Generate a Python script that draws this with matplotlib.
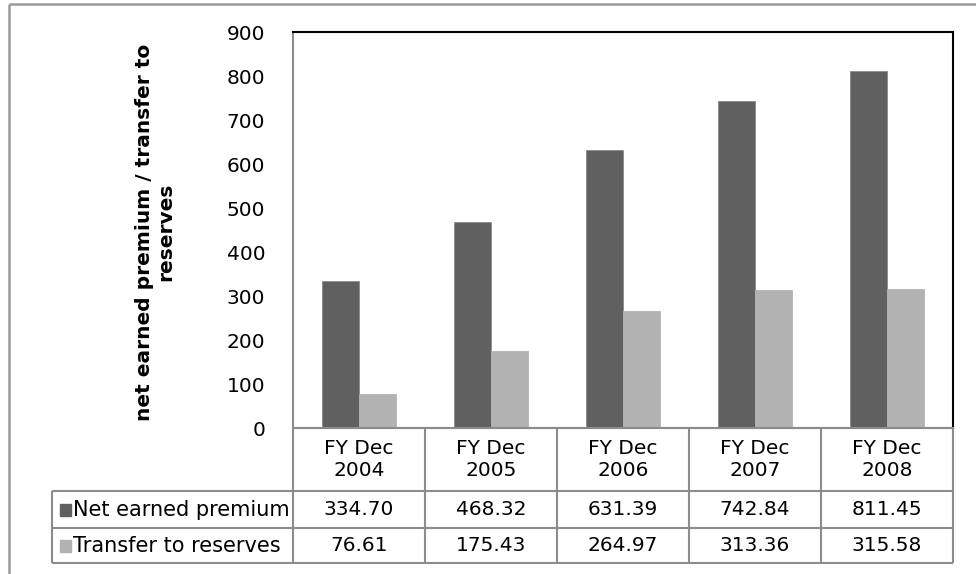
import numpy as np
import matplotlib
matplotlib.use("Agg")
import matplotlib.pyplot as plt
from matplotlib.lines import Line2D
from matplotlib.patches import Rectangle
from matplotlib.transforms import blended_transform_factory

years = ["FY Dec\n2004", "FY Dec\n2005", "FY Dec\n2006", "FY Dec\n2007", "FY Dec\n2008"]
series_names = ["Net earned premium", "Transfer to reserves"]
net_premium = [334.70, 468.32, 631.39, 742.84, 811.45]
transfer_reserves = [76.61, 175.43, 264.97, 313.36, 315.58]
yticks = [0, 100, 200, 300, 400, 500, 600, 700, 800, 900]

dark = "#606060"
light = "#b2b2b2"
grid_gray = "#8c8c8c"
W, H = 976, 574

plt.rcParams["font.family"] = "DejaVu Sans"
fig = plt.figure(figsize=(W / 100, H / 100), dpi=100)


def fx(x):
    return x / W


def fy(y):
    return 1 - y / H


def hline(x0, x1, y, color=grid_gray, lw=1.5):
    fig.add_artist(Line2D([fx(x0), fx(x1)], [fy(y), fy(y)], color=color, lw=lw,
                          transform=fig.transFigure, solid_capstyle="butt"))


def vline(x, y0, y1, color=grid_gray, lw=1.5):
    fig.add_artist(Line2D([fx(x), fx(x)], [fy(y0), fy(y1)], color=color, lw=lw,
                          transform=fig.transFigure, solid_capstyle="butt"))


# plot area in pixels
left, right, top, bottom = 293, 953, 32, 428
ax = fig.add_axes([fx(left), fy(bottom), fx(right) - fx(left), (bottom - top) / H])

x = np.arange(len(years))
bw = 0.28
ax.bar(x - bw / 2, net_premium, bw, color=dark, edgecolor="#8a8a8a", linewidth=0.6)
ax.bar(x + bw / 2, transfer_reserves, bw, color=light, edgecolor=light, linewidth=0.6)

ax.set_xlim(-0.5, len(years) - 0.5)
ax.set_ylim(0, 900)
ax.set_yticks(yticks)
ax.set_yticklabels([str(v) for v in yticks], fontsize=14.5)
ax.tick_params(axis="y", length=0, pad=20)
ax.set_xticks([])
for side in ("top", "right"):
    ax.spines[side].set_color("black")
    ax.spines[side].set_linewidth(1.5)
for side in ("left", "bottom"):
    ax.spines[side].set_color(grid_gray)
    ax.spines[side].set_linewidth(1.5)

fig.text(fx(155), fy(232), "net earned premium / transfer to\nreserves",
         rotation=90, ha="center", va="center", multialignment="center",
         fontsize=14.5, fontweight="bold")

# data table under the axis
row_tops = [428, 491, 528, 563]
label_left = 52
for i, y in enumerate(row_tops):
    x0 = left if i == 0 else label_left
    hline(x0, right, y)
vline(label_left, row_tops[1], row_tops[3])
col_tr = blended_transform_factory(ax.transData, fig.transFigure)
for b in np.arange(len(years) + 1) - 0.5:
    px_x = ax.transData.transform((b, 0))[0]
    vline(px_x, row_tops[0], row_tops[3])

row_centers = [(row_tops[i] + row_tops[i + 1]) / 2 for i in range(3)]
for i, lab in enumerate(years):
    fig.text(i, fy(row_centers[0]), lab, transform=col_tr, ha="center", va="center",
             fontsize=14.5, linespacing=1.2)
    fig.text(i, fy(row_centers[1]), f"{net_premium[i]:.2f}", transform=col_tr,
             ha="center", va="center", fontsize=14.5)
    fig.text(i, fy(row_centers[2]), f"{transfer_reserves[i]:.2f}", transform=col_tr,
             ha="center", va="center", fontsize=14.5)

for name, color, yc in zip(series_names, [dark, light], row_centers[1:]):
    fig.add_artist(Rectangle((fx(60), fy(yc + 6)), 11 / W, 12 / H, color=color,
                             transform=fig.transFigure))
    fig.text(fx(73), fy(yc), name, ha="left", va="center", fontsize=15)

# outer chart border
hline(9, W, 4, color="#9a9a9a", lw=1.8)
vline(9, 4, H, color="#9a9a9a", lw=1.8)

fig.savefig("out.png", dpi=100)
